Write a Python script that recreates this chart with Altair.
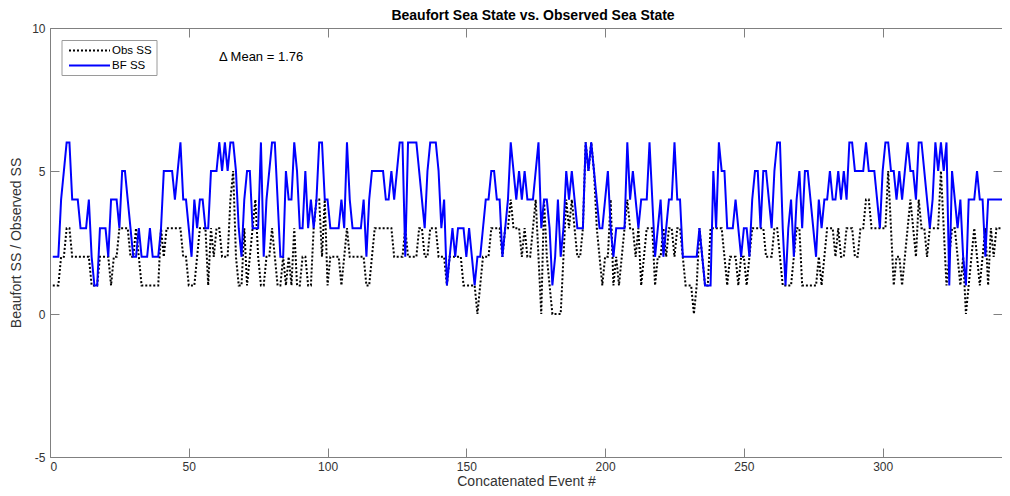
import altair as alt
import pandas as pd

# ---- data ----
bf_ss = [
    2,2,2,4,5,6,6,4,4,4, 3,3,3,4,2,1,1,3,3,3, 2,4,4,4,3,5,5,4,3,2, 2,3,2,2,2,3,2,2,2, 3,5,5,5,5,
    4,5,6,4,4,3,2,4,3,4, 4,3,3,5,5,5,6,5,6,5, 6,6,5,3,2,4,5,5,3,3, 3,6,2,4,5,6,6,4,2, 2,5,4,4,
    6,5,3,3,5,3,4,3,4,6, 6,4,4,3,3,3,3,4,3,6, 4,3,3,3,3,4,2,4,5, 5,5,5,5,4,4,5,4,5,6, 6,2,6,6,
    6,6,5,4,3,5,6,6,6, 5,3,4,1,2,3,2,3,3,3, 2,3,2,1,2,2,3,4,4,5, 5,4,4,2,3,4,6,5,4, 5,4,5,4,
    4,4,5,6,3,4,4,3,1,2, 4,2,3,5,4,5,4,3,3, 3,6,5,6,5,4,3,3,4,5, 3,2,3,3,3,3,6,4,5, 4,3,4,4,4,
    6,4,2,3,4,2,3,4,4,6, 4,4,2,2,2,2,2,2,3, 2,1,1,1,5,3,6,5,5,3, 3,3,4,3,2,3,3,2,4,5, 5,3,5,
    5,4,3,5,6,6,3,1,3,4, 2,4,5,3,5,5,4,3,2,4, 3,4,4,5,4,4,5,4,5, 4,6,6,5,5,5,5,6,5,5, 5,4,3,5,
    6,6,5,5,4,5,4,5,6,5, 5,4,6,6,5,4,3,4,6,5, 6,5,6,1,5,4,3,4,2,1, 4,4,4,5,4,4,2,4,4, 4,4,4,4,
]
obs_ss = [
    1,1,1,2,2,3,3,2,2,2, 2,2,2,2,1,1,1,2,2,2, 2,1,2,2,3,3,3,3,2,2, 3,2,1,1,1,1,1,1,1, 3,2,3,3,3,
    3,3,3,2,2,1,1,1,2,3, 3,3,1,3,2,3,3,2,2,2, 4,5,2,1,1,3,1,2,3,4, 2,1,1,2,2,3,2,1,1, 2,1,2,1,
    3, 1,1,2,2,1,1,3,4,4,2, 4,1,2,2,2,2,1,2,3,2, 2,2,2,2,2,1,1,2,3, 3,3,3,3,3,3,2,2,2,2, 3,2,2,
    2,2,3,3,2,2,3,3,3, 2,2,2,1,2,2,2,2,2,1, 1,1,1,1,0,1,2,2,2,3, 3,3,3,2,3,3,4,3,3, 3,2,3,2,
    2,3,4,2,0,4,2,1,0,0, 0,0,2,4,3,4,3,2,2, 3,6,5,6,5,3,2,1,2,2, 4,1,2,1,2,3,4,3,3, 2,3,1,2,3,
    3,3,1,2,2,3,2,3,3,2, 3,3,2,1,1,1,0,1,3, 2,1,1,3,3,3,3,3,2,1, 2,2,2,1,2,2,1,2,3,3, 3,3,3,
    2,2,2,3,3,2,1,1,1,1, 2,3,3,1,1,1,1,1,1,2, 1,2,3,3,3,2,3,2,2, 3,3,3,2,2,3,3,4,4,3, 3,3,3,3,
    3,5,3,1,2,2,1,2,3,4, 3,2,4,3,3,2,3,3,3,3, 5,3,1,2,3,3,2,1,2,0, 1,2,3,2,1,2,3,1,3, 2,3,3,3,
]
series_names = ["Obs SS", "BF SS"]
series_colors = ["#000000", "#0000ff"]
x_ticks = [0, 50, 100, 150, 200, 250, 300]
y_ticks = [-5, 0, 5, 10]
x_domain = [0, 343]
y_domain = [-5, 10]
chart_title = "Beaufort Sea State vs. Observed Sea State"
x_title = "Concatenated Event #"
y_title = "Beaufort SS / Observed SS"
mean_label = "\u0394 Mean = 1.76"

n = len(bf_ss)
events = list(range(1, n + 1))
df = pd.DataFrame({
    "event": events + events,
    "value": obs_ss + bf_ss,
    "series": [series_names[0]] * n + [series_names[1]] * n,
})

FONT = "Liberation Sans"
AX = "#808080"
LBL = "#333333"
W, H = 952, 429

xscale = alt.Scale(domain=x_domain, nice=False, zero=False)
yscale = alt.Scale(domain=y_domain, nice=False, zero=False)
color = alt.Color("series:N", scale=alt.Scale(domain=series_names, range=series_colors), legend=None)
dash = alt.StrokeDash("series:N", scale=alt.Scale(domain=series_names, range=[[2, 2], [1, 0]]), legend=None)

x_bottom = alt.Axis(orient="bottom", values=x_ticks, tickSize=9, offset=-9, domain=False, grid=False,
                    labelPadding=4, title=x_title, titlePadding=2, labelExpr="'' + datum.value")
y_left = alt.Axis(orient="left", values=y_ticks, tickSize=9, offset=-9, domain=False, grid=False,
                  labelPadding=5, title=y_title, titlePadding=8, labelExpr="'' + datum.value")

obs_layer = alt.Chart(df).transform_filter(alt.datum.series == series_names[0]).mark_line(strokeWidth=2).encode(
    x=alt.X("event:Q", scale=xscale, axis=x_bottom),
    y=alt.Y("value:Q", scale=yscale, axis=y_left),
    color=color, strokeDash=dash,
)
bf_layer = alt.Chart(df).transform_filter(alt.datum.series == series_names[1]).mark_line(strokeWidth=2).encode(
    x=alt.X("event:Q", scale=xscale, axis=None),
    y=alt.Y("value:Q", scale=yscale, axis=None),
    color=color, strokeDash=dash,
)
frame_layer = alt.Chart(df).mark_point(opacity=0, size=1).encode(
    x=alt.X("event:Q", scale=xscale, axis=alt.Axis(orient="top", values=x_ticks, labels=False, title=None,
                                                    tickSize=9, offset=-9, domain=False, grid=False)),
    y=alt.Y("value:Q", scale=yscale, axis=alt.Axis(orient="right", values=y_ticks, labels=False, title=None,
                                                    tickSize=9, offset=-9, domain=False, grid=False)),
)

# annotation and title as text
text_df = pd.DataFrame({"label": [mean_label]})
mean_text = alt.Chart(text_df).mark_text(
    align="left", baseline="middle", font=FONT, fontSize=13, color="#000000"
).encode(x=alt.value(169), y=alt.value(29), text="label:N")
title_text = alt.Chart(pd.DataFrame({"label": [chart_title]})).mark_text(
    align="center", baseline="middle", font=FONT, fontSize=14, fontWeight="bold", color="#000000"
).encode(x=alt.value(483), y=alt.value(-12), text="label:N")

# legend box
leg_box = alt.Chart(text_df).mark_rect(fill="#ffffff", stroke="#9a9a9a", strokeWidth=1).encode(
    x=alt.value(12), x2=alt.value(107), y=alt.value(12.5), y2=alt.value(47.5))
leg_obs_line = alt.Chart(text_df).mark_rule(color=series_colors[0], strokeWidth=2, strokeDash=[2, 2]).encode(
    x=alt.value(19), x2=alt.value(60), y=alt.value(22.5))
leg_bf_line = alt.Chart(text_df).mark_rule(color=series_colors[1], strokeWidth=2).encode(
    x=alt.value(19), x2=alt.value(60), y=alt.value(37.5))
leg_obs_text = alt.Chart(pd.DataFrame({"label": [series_names[0]]})).mark_text(
    align="left", baseline="middle", font=FONT, fontSize=11.5, color="#000000"
).encode(x=alt.value(62), y=alt.value(22.5), text="label:N")
leg_bf_text = alt.Chart(pd.DataFrame({"label": [series_names[1]]})).mark_text(
    align="left", baseline="middle", font=FONT, fontSize=11.5, color="#000000"
).encode(x=alt.value(62), y=alt.value(37.5), text="label:N")

chart = alt.layer(
    obs_layer, bf_layer, frame_layer, mean_text, title_text,
    leg_box, leg_obs_line, leg_bf_line, leg_obs_text, leg_bf_text,
).resolve_axis(
    x="independent", y="independent"
).properties(
    width=W, height=H,
    padding={"left": 42, "top": 20, "right": 0, "bottom": 34},
    autosize="none",
).configure_view(stroke=AX, strokeWidth=1).configure_axis(
    tickColor=AX, tickWidth=1, labelFont=FONT, labelFontSize=12, labelColor=LBL,
    titleFont=FONT, titleFontSize=14, titleFontWeight="normal", titleColor=LBL,
)

chart.save("out.html", embed_options={"renderer": "svg", "actions": False})
